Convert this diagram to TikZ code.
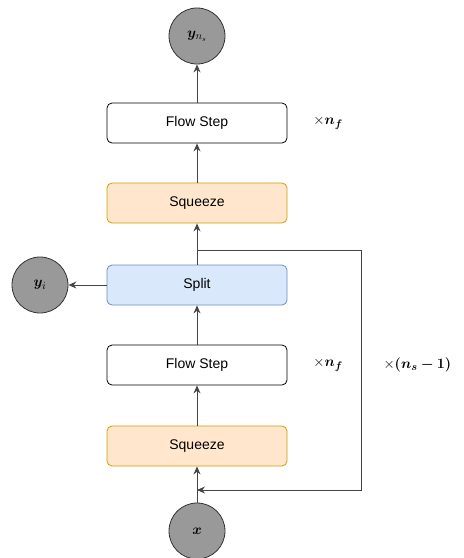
\documentclass[tikz,border=0pt]{standalone}
\usepackage{amsmath,bm}
\usepackage{fontspec}
\setsansfont{Liberation Sans}
\usetikzlibrary{arrows.meta}
\definecolor{sqfill}{HTML}{FFE6CC}
\definecolor{sqdraw}{HTML}{D79B00}
\definecolor{spfill}{HTML}{DAE8FC}
\definecolor{spdraw}{HTML}{6C8EBF}
\definecolor{circfill}{HTML}{999999}
\definecolor{linec}{HTML}{444444}
\begin{document}
\begin{tikzpicture}[x=1pt,y=-1pt,
  box/.style={draw=black,rounded corners=5pt,minimum width=180pt,minimum height=40pt,inner sep=0pt,font=\sffamily\fontsize{14}{16}\selectfont,line width=0.8pt},
  sq/.style={box,fill=sqfill,draw=sqdraw},
  sp/.style={box,fill=spfill,draw=spdraw},
  fs/.style={box,fill=white},
  var/.style={circle,draw=black!80,fill=circfill,minimum size=56pt,inner sep=0pt,line width=0.8pt,font=\fontsize{15}{17}\selectfont},
  conn/.style={draw=linec,line width=1pt,-{Stealth[length=8pt,width=7pt]}},
  lbl/.style={font=\fontsize{15}{17}\selectfont}]
\useasboundingbox (0,0) rectangle (464,558);
\node[var] (yns) at (197,36) {$\bm{y}_{n_s}$};
\node[fs] (fs2) at (197,123) {Flow Step};
\node[sq] (sq2) at (197,203) {Squeeze};
\node[sp] (split) at (197,285) {Split};
\node[var] (yi) at (40,285) {$\bm{y}_i$};
\node[fs] (fs1) at (197,365) {Flow Step};
\node[sq] (sq1) at (197,446) {Squeeze};
\node[var] (x) at (197,531) {$\bm{x}$};
\node[lbl] (nf2) at (328,123) {$\times\bm{n_f}$};
\node[lbl] (nf1) at (328,365) {$\times\bm{n_f}$};
\node[lbl,anchor=west] (ns) at (380,365) {$\times\bm{(n_s-1)}$};
\coordinate (br) at (197,250);
\coordinate (tr) at (361,250);
\coordinate (bl) at (361,490);
\coordinate (in) at (197,490);
\draw[conn] (x) -- (sq1);
\draw[conn] (sq1) -- (fs1);
\draw[conn] (fs1) -- (split);
\draw[conn] (split) -- (yi);
\draw[conn] (split) -- (sq2);
\draw[conn] (sq2) -- (fs2);
\draw[conn] (fs2) -- (yns);
\draw[conn] (br) -- (tr) -- (bl) -- (in);
\end{tikzpicture}
\end{document}
